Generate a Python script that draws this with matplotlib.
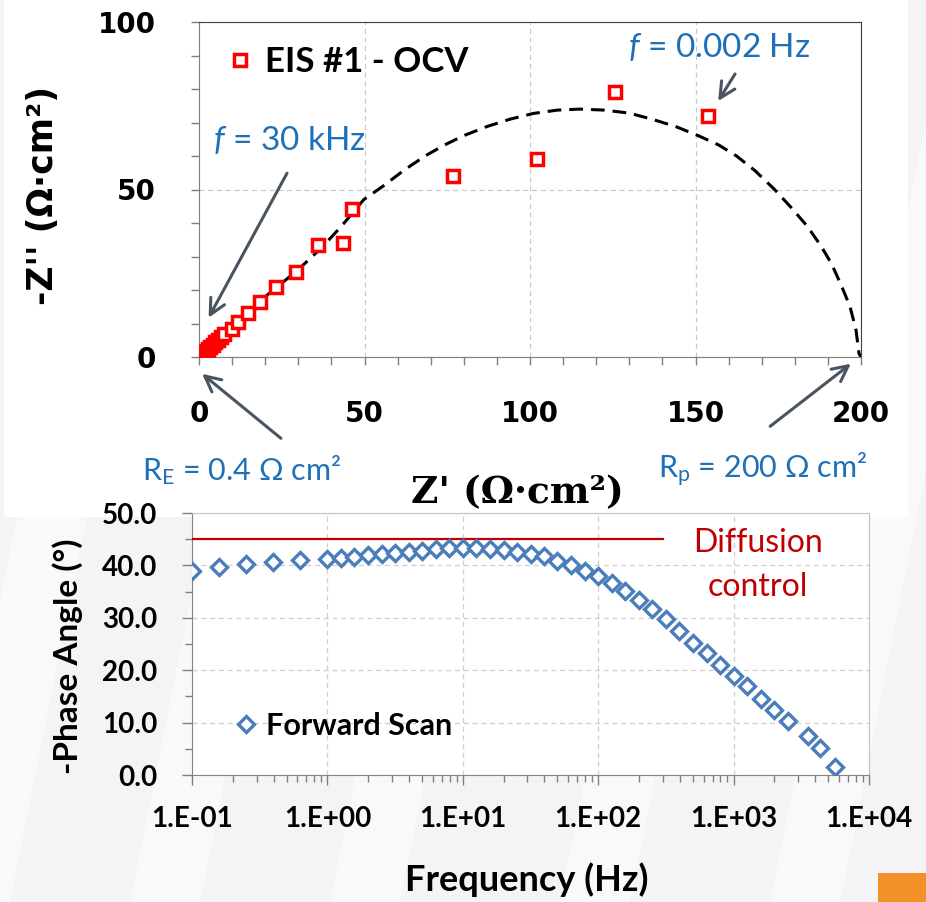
"""EIS figure: Nyquist plot (top) and Bode phase plot (bottom) on a slide-like background."""
import matplotlib
matplotlib.use("Agg")  # headless / no display
import matplotlib.pyplot as plt
from matplotlib.patches import Rectangle, Polygon
from matplotlib.ticker import LogLocator, NullFormatter

W, H = 926, 902

# --- Nyquist data (EIS #1 - OCV), Ohm cm2 ---
z_real = [0.4, 0.7, 1.0, 1.4, 1.8, 2.3, 2.8, 3.4, 4.1, 4.9, 5.7, 6.6, 7.5,
          9.9, 11.7, 14.9, 18.5, 23.4, 29.3, 35.9, 43.4, 46.3, 76.6, 102.0,
          125.7, 153.8]
z_imag = [0.1, 0.3, 0.6, 1.0, 1.4, 1.9, 2.4, 3.0, 3.7, 4.4, 5.2, 6.0, 6.9,
          8.4, 10.5, 13.1, 16.3, 20.9, 25.5, 33.3, 33.9, 44.3, 53.9, 59.0,
          79.2, 71.9]

# fitted (dashed) arc
fit_real = [0.4, 10, 20, 29.9, 37, 43, 49.8, 55.6, 62, 68.3, 74, 79.8, 87, 94,
            101, 108.3, 115, 122.5, 130, 136.8, 144, 151, 157, 162.4, 168,
            173.9, 179, 183.8, 188, 191, 194, 196.7, 198.5, 199.4, 200]
fit_imag = [0, 9, 18, 26, 32.6, 39, 47, 51, 55.8, 60, 63.2, 66, 68.8, 71,
            72.7, 73.7, 74, 73.7, 72.8, 71, 68.8, 66, 63.3, 60, 55.6, 50, 44.5,
            39, 33, 28, 21.5, 15, 8, 1, 0]

# --- Bode phase data (forward scan) ---
freq = [0.1, 0.158, 0.251, 0.398, 0.631, 1.0, 1.26, 1.58, 2.0, 2.51, 3.16,
        3.98, 5.01, 6.31, 7.94, 10.0, 12.6, 15.8, 20, 25, 32, 40, 50, 63, 80,
        100, 126, 158, 200, 251, 316, 398, 501, 631, 794, 1000, 1259, 1585,
        1995, 2512, 3548, 4365, 5623]
phase = [39.0, 39.6, 40.3, 40.6, 41.0, 41.3, 41.4, 41.6, 41.9, 42.2, 42.4,
         42.6, 42.8, 43.1, 43.3, 43.4, 43.4, 43.1, 42.9, 42.5, 42.2, 41.7,
         40.9, 40.1, 39.0, 38.0, 36.6, 35.2, 33.4, 31.6, 29.7, 27.5, 25.1,
         23.2, 21.0, 18.9, 16.9, 14.5, 12.5, 10.3, 7.4, 5.1, 1.6]
diff_freq = [0.1, 300]
diff_phase = [45, 45]

nyq_ticks = [0, 50, 100, 150, 200]
nyq_yticks = [0, 50, 100]
bode_xticks = [0.1, 1, 10, 100, 1000, 10000]
bode_xlabels = ["1.E-01", "1.E+00", "1.E+01", "1.E+02", "1.E+03", "1.E+04"]
bode_yticks = [0, 10, 20, 30, 40, 50]
bode_ylabels = ["0.0", "10.0", "20.0", "30.0", "40.0", "50.0"]

BLUE_TXT = "#1f70b8"
ARROW = "#4a5461"
RED = "#ff0000"
DIAM = "#4a7ebb"
DARKRED = "#c00000"

plt.rcParams["font.family"] = ["Lato", "DejaVu Sans"]
plt.rcParams["mathtext.fontset"] = "custom"
plt.rcParams["mathtext.rm"] = "Lato"
plt.rcParams["mathtext.it"] = "Lato:italic"
plt.rcParams["mathtext.bf"] = "Lato:bold"


def fx(px):
    return px / W


def fy(py):
    return 1 - py / H


fig = plt.figure(figsize=(W / 100, H / 100), dpi=100, facecolor="#f4f4f7")

# slide background: faint diagonal bands + white panel behind the Nyquist plot
for x0 in [-60, 130, 330, 560, 770]:
    fig.patches.append(Polygon([(fx(x0), 0), (fx(x0 + 70), 0),
                                (fx(x0 + 250), 1), (fx(x0 + 180), 1)],
                               closed=True, transform=fig.transFigure,
                               facecolor="#f9f9fb", edgecolor="none",
                               zorder=-2))
fig.patches.append(Rectangle((fx(4), fy(517)), fx(908 - 4), 517 / H,
                             transform=fig.transFigure, facecolor="white",
                             edgecolor="none", zorder=-1))
fig.patches.append(Rectangle((fx(878), 0), fx(48), 29 / H,
                             transform=fig.transFigure, facecolor="#f39129",
                             edgecolor="none", zorder=-1))

# ---------------- Nyquist ----------------
ax1 = fig.add_axes([fx(199), fy(357), fx(861 - 199), (357 - 22) / H])
ax1.set_facecolor("white")
ax1.plot(fit_real, fit_imag, color="black", lw=2.2, ls=(0, (4.5, 2.6)),
         zorder=3)
ax1.plot(z_real, z_imag, ls="none", marker="s", ms=8, mfc="white", mec=RED,
         mew=2.5, zorder=4, label="EIS #1 - OCV")
ax1.set_xlim(0, 200)
ax1.set_ylim(0, 100)
ax1.set_xticks(nyq_ticks)
ax1.set_yticks(nyq_yticks)
ax1.set_xticks(range(0, 201, 10), minor=True)
ax1.set_yticks(range(0, 101, 10), minor=True)
ax1.grid(True, which="major", ls=(0, (4, 3)), color="#c8c8c8", lw=0.9)
ax1.set_axisbelow(True)
ax1.tick_params(which="both", direction="out", length=6, width=1,
                color="#7f7f7f")
ax1.tick_params(axis="x", which="major", pad=25)
ax1.tick_params(axis="y", which="major", pad=25)
for lbl in ax1.get_xticklabels() + ax1.get_yticklabels():
    lbl.set_family("DejaVu Sans")
    lbl.set_fontweight("bold")
    lbl.set_fontsize(20)
for side in ["left", "bottom"]:
    ax1.spines[side].set_color("#7f7f7f")
for side in ["top", "right"]:
    ax1.spines[side].set_color("#404040")

ax1.legend(loc="center left", bbox_to_anchor=(fx(230), fy(62)),
           bbox_transform=fig.transFigure, frameon=False, handlelength=0.6,
           handletextpad=0.4, borderpad=0, borderaxespad=0,
           prop={"family": ["Lato", "DejaVu Sans"], "weight": "bold",
                 "size": 25})

ax1.text(4.2, 64.8, r"$\mathit{f}$ = 30 kHz", color=BLUE_TXT, fontsize=24,
         ha="left", va="center")
ax1.text(129.6, 92.5, r"$\mathit{f}$ = 0.002 Hz", color=BLUE_TXT,
         fontsize=24, ha="left", va="center")

arrow_kw = dict(arrowstyle="->", lw=2.2, color=ARROW, mutation_scale=28)
ax1.annotate("", xy=(2.5, 11.0), xytext=(27.0, 55.6), arrowprops=arrow_kw,
             annotation_clip=False)
ax1.annotate("", xy=(156.4, 75.7), xytext=(162.4, 85.2), arrowprops=arrow_kw,
             annotation_clip=False)
ax1.annotate("", xy=(0.3, -4.5), xytext=(25.4, -24.8), arrowprops=arrow_kw,
             annotation_clip=False)
ax1.annotate("", xy=(197.6, -1.5), xytext=(171.9, -21.2), arrowprops=arrow_kw,
             annotation_clip=False)

fig.text(fx(142), fy(470), r"R$_\mathregular{E}$ = 0.4 Ω cm²", color=BLUE_TXT,
         fontsize=22, ha="left", va="center")
fig.text(fx(658), fy(470), r"R$_\mathregular{p}$ = 200 Ω cm²", color=BLUE_TXT,
         fontsize=22, ha="left", va="center")
fig.text(fx(517), fy(493), "Z' (Ω·cm²)", family="DejaVu Serif",
         fontweight="bold", fontsize=27, ha="center", va="center")
fig.text(fx(43), fy(195), "-Z'' (Ω·cm²)", family="DejaVu Sans",
         fontweight="bold", fontsize=25, rotation=90, ha="center",
         va="center")

# ---------------- Bode phase ----------------
ax2 = fig.add_axes([fx(192), fy(775), fx(869 - 192), (775 - 513) / H])
ax2.set_facecolor("white")
ax2.set_xscale("log")
ax2.plot(diff_freq, diff_phase, color=DARKRED, lw=1.6, zorder=3)
ax2.plot(freq, phase, ls="none", marker="D", ms=8.5, mfc="white", mec=DIAM,
         mew=2.4, zorder=4, label="Forward Scan")
ax2.set_xlim(0.1, 1e4)
ax2.set_ylim(0, 50)
ax2.set_xticks(bode_xticks)
ax2.set_xticklabels(bode_xlabels)
ax2.xaxis.set_minor_locator(LogLocator(base=10, subs=range(2, 10),
                                       numticks=100))
ax2.xaxis.set_minor_formatter(NullFormatter())
ax2.set_yticks(bode_yticks)
ax2.set_yticklabels(bode_ylabels)
ax2.set_yticks(range(5, 50, 10), minor=True)
ax2.grid(True, which="major", ls=(0, (4, 3)), color="#cfcfcf", lw=0.9)
ax2.set_axisbelow(True)
ax2.tick_params(which="major", direction="out", length=7, width=1,
                color="#7f7f7f", labelsize=20)
ax2.tick_params(which="minor", direction="out", length=5, width=1,
                color="#7f7f7f")
ax2.tick_params(axis="x", which="major", pad=15)
ax2.tick_params(axis="y", which="major", pad=18)
for lbl in ax2.get_xticklabels() + ax2.get_yticklabels():
    lbl.set_fontweight("bold")
for side in ["left", "bottom"]:
    ax2.spines[side].set_color("#868686")
for side in ["top", "right"]:
    ax2.spines[side].set_color("#c4c4c4")

ax2.legend(loc="center left", bbox_to_anchor=(fx(237), fy(726)),
           bbox_transform=fig.transFigure, frameon=False, handlelength=0.6,
           handletextpad=0.36, borderpad=0, borderaxespad=0,
           prop={"family": ["Lato", "DejaVu Sans"], "weight": "bold",
                 "size": 22})

fig.text(fx(758), fy(543), "Diffusion", color=DARKRED, fontsize=23,
         ha="center", va="center")
fig.text(fx(758), fy(587), "control", color=DARKRED, fontsize=23,
         ha="center", va="center")
fig.text(fx(68), fy(656), "-Phase Angle (°)", fontweight="bold", fontsize=24,
         rotation=90, ha="center", va="center")
fig.text(fx(527), fy(880), "Frequency (Hz)", fontweight="bold", fontsize=26,
         ha="center", va="center")

fig.savefig("out.png", dpi=100, facecolor=fig.get_facecolor())
